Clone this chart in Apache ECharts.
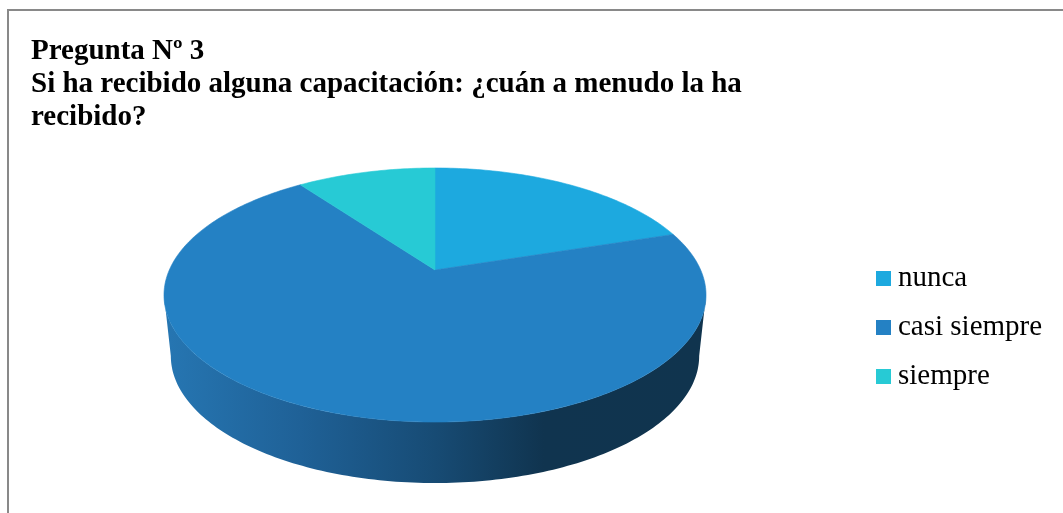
<!DOCTYPE html>
<html>
<head>
<meta charset="utf-8">
<title>Pregunta Nº 3</title>
<script src="https://cdn.jsdelivr.net/npm/echarts@6/dist/echarts.min.js"></script>
<style>
  html, body { margin: 0; padding: 0; background: #fff; }
  #chart { width: 1063px; height: 513px; }
</style>
</head>
<body>
<div id="chart"></div>
<script>
// datos de la pregunta 3 (porcentajes)
const categories = ['nunca', 'casi siempre', 'siempre'];
const values = [20, 70, 10];

const colors = ['#1DA9DF', '#2481C4', '#27CAD5'];

// geometria del pastel en perspectiva
const CX = 435, CY = 270;      // vertice de la cara superior
const A = 265.7, B = 122.1;    // semiejes
const K = 0.197;               // factor de perspectiva
const DEPTH = 61, A_BOT = 259; // grosor y ancho de la cara inferior
const SIL = Math.acos(-K) * 180 / Math.PI; // silueta lateral

const total = values.reduce((s, v) => s + v, 0);
const cum = [0];
values.forEach((v, i) => cum.push(cum[i] + v));

function proj(deg, bottom) {
  const t = deg * Math.PI / 180;
  const x = Math.sin(t), y = Math.cos(t);
  const w = 1 + K * y;
  return [CX + (bottom ? A_BOT : A) * x / w, CY + (bottom ? DEPTH : 0) - B * y / w];
}

function arc(a, b, bottom) {
  const pts = [];
  const n = Math.max(2, Math.ceil(Math.abs(b - a)));
  for (let j = 0; j <= n; j++) {
    pts.push(proj(a + (b - a) * j / n, bottom));
  }
  return pts;
}

const sideGradient = new echarts.graphic.LinearGradient(165, 0, 706, 0, [
  { offset: 0, color: '#2676B2' },
  { offset: 0.25, color: '#1F6197' },
  { offset: 0.5, color: '#174B74' },
  { offset: 0.7, color: '#10344F' },
  { offset: 1, color: '#10344E' }
], true);

function renderSlice(params, api) {
  const i = params.seriesIndex;
  const start = cum[i] / total * 360;
  const end = cum[i + 1] / total * 360;
  const children = [];

  const a = Math.max(start, SIL), b = Math.min(end, 360 - SIL);
  if (a < b) {
    const side = arc(a, b, false).concat(arc(b, a, true));
    children.push({
      type: 'polygon',
      shape: { points: side },
      style: { fill: sideGradient, stroke: null }
    });
  }

  const top = [[CX, CY]].concat(arc(start, end, false));
  children.push({
    type: 'polygon',
    shape: { points: top },
    style: { fill: colors[i], stroke: colors[i], lineWidth: 0.6 }
  });
  return { type: 'group', children: children };
}

const chart = echarts.init(document.getElementById('chart'));
chart.setOption({
  animation: false,
  title: {
    text: 'Pregunta Nº 3\nSi ha recibido alguna capacitación: ¿cuán a menudo la ha\nrecibido?',
    left: 26,
    top: 30,
    textStyle: {
      fontFamily: 'Liberation Serif',
      fontWeight: 'bold',
      fontSize: 29,
      lineHeight: 33,
      color: '#000'
    }
  },
  legend: {
    orient: 'vertical',
    left: 871,
    top: 259,
    icon: 'rect',
    itemWidth: 15,
    itemHeight: 15,
    itemGap: 20,
    textStyle: {
      fontFamily: 'Liberation Serif',
      fontSize: 29,
      color: '#000',
      padding: [0, 0, 0, 2]
    },
    data: categories
  },
  graphic: [{
    type: 'polyline',
    shape: { points: [[8, 513], [8, 10], [1063, 10]] },
    style: { stroke: '#898989', lineWidth: 2, fill: null }
  }],
  series: categories.map((name, i) => ({
    name: name,
    type: 'custom',
    coordinateSystem: 'none',
    itemStyle: { color: colors[i] },
    renderItem: renderSlice,
    data: [values[i]]
  }))
});
</script>
</body>
</html>
